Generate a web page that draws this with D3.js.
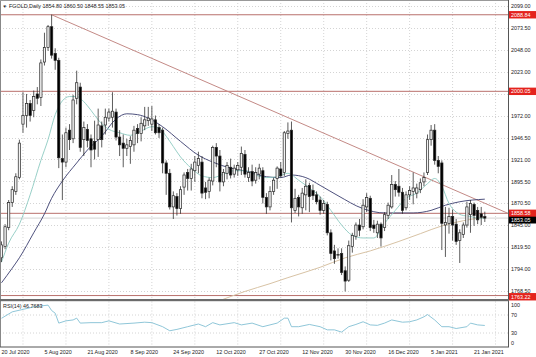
<!DOCTYPE html>
<html><head><meta charset="utf-8">
<script src="https://cdn.jsdelivr.net/npm/d3@7"></script>
<style>
body{margin:0;background:#fff;}
svg{display:block;}
</style></head>
<body><svg id="c" width="536" height="357"></svg>
<script>
// ---------------- DATA ----------------
const symbolTitle = "FGOLD,Daily";
const opens = [1807,1820,1842,1871,1884,1900,1962,1972,1986,1978,
1997,1993,2034,2051,2075,2044,2036,1922,1918,1955,
1945,1992,2005,1944,1956,1945,1942,1944,1960,1961,
1969,1970,1976,1947,1940,1934,1936,1938,1957,1951,
1960,1966,1962,1967,1958,1955,1917,1905,1866,1878,
1864,1889,1906,1899,1908,1914,1918,1888,1884,1896,
1935,1925,1895,1905,1912,1904,1909,1912,1927,1900,
1907,1897,1904,1908,1877,1866,1884,1899,1910,1906,
1951,1955,1862,1877,1865,1880,1891,1885,1880,1874,
1862,1869,1836,1815,1810,1812,1792,1781,1820,1832,
1845,1843,1866,1876,1845,1836,1846,1842,1856,1866,
1892,1890,1883,1865,1880,1884,1882,1886,1895,1906,
1944,1955,1920,1917,1845,1847,1855,1846,1827,1834,
1845,1857,1869,1862,1858,1854.80];
const highs = [1826,1846,1874,1890,1905,1944,1999,1997,1990,2001,
2005,2037,2068,2077,2089,2050,2039,1950,1958,1962,
1996,2024,2010,1965,1962,1950,1966,1980,1965,1980,
1980,1999,1980,1955,1950,1945,1948,1960,1962,1970,
1982,1982,1983,1972,1962,1958,1920,1910,1884,1882,
1890,1906,1910,1916,1925,1930,1925,1895,1900,1937,
1940,1932,1910,1918,1922,1915,1918,1936,1932,1912,
1915,1912,1916,1912,1882,1890,1900,1913,1918,1954,
1964,1965,1887,1880,1888,1898,1894,1892,1884,1878,
1874,1872,1840,1822,1818,1818,1797,1827,1836,1848,
1852,1875,1882,1879,1851,1850,1848,1860,1871,1903,
1896,1910,1888,1884,1890,1906,1893,1899,1906,1950,
1961,1962,1925,1920,1866,1865,1863,1852,1840,1848,
1872,1874,1871,1866,1866,1860.50];
const lows = [1802,1817,1839,1866,1880,1898,1952,1958,1965,1970,
1985,1983,2030,2047,2038,2025,1911,1874,1912,1932,
1940,1985,1930,1925,1935,1912,1921,1924,1935,1950,
1965,1958,1943,1925,1912,1925,1916,1930,1940,1942,
1955,1960,1954,1950,1946,1905,1880,1863,1852,1856,
1858,1880,1885,1885,1895,1905,1876,1875,1876,1891,
1912,1884,1890,1898,1899,1900,1902,1903,1900,1895,
1890,1893,1898,1870,1858,1862,1880,1887,1900,1902,
1945,1848,1859,1855,1858,1862,1860,1874,1869,1857,
1858,1833,1804,1800,1806,1787,1768,1779,1813,1828,
1832,1840,1860,1838,1836,1830,1820,1838,1852,1864,
1878,1878,1858,1862,1874,1869,1876,1882,1890,1903,
1937,1915,1905,1816,1808,1835,1827,1822,1801,1830,
1842,1836,1844,1846,1845,1848.55];
const closes = [1822,1843,1871,1886,1901,1940,1972,1986,1972,1994,
1992,2033,2051,2075,2042,2036,1923,1918,1952,1944,
1990,2010,1935,1958,1943,1932,1933,1961,1944,1970,
1976,1977,1947,1938,1934,1938,1943,1955,1951,1963,
1967,1969,1968,1952,1952,1917,1905,1866,1879,1864,
1886,1903,1899,1910,1918,1922,1882,1883,1897,1935,
1925,1895,1906,1914,1903,1911,1914,1928,1904,1906,
1896,1906,1911,1877,1866,1884,1897,1911,1902,1952,
1954,1865,1876,1866,1882,1890,1878,1879,1872,1862,
1870,1836,1812,1806,1811,1790,1780,1821,1833,1845,
1839,1868,1877,1842,1841,1846,1830,1857,1868,1892,
1886,1883,1862,1880,1885,1888,1888,1894,1900,1944,
1955,1920,1913,1847,1848,1855,1845,1826,1836,1845,
1866,1870,1856,1851,1854,1853.05];

// moving averages: [bar index, price]
const maFast = [[0,1802],[2,1824],[5,1846],[8,1880],[11,1920],[13,1944],[15,1973],[17,1989],[19,1994],[21,1994],
[23,1988],[25,1978],[27,1967],[30,1956],[33,1952],[36,1949],[39,1954],[42,1959],[44,1958],[46,1948],
[48,1936],[50,1924],[53,1911],[56,1902],[59,1900],[62,1904],[65,1908],[68,1908],[71,1903],[74,1900],
[77,1901],[80,1905],[83,1897],[86,1888],[89,1878],[92,1862],[95,1845],[98,1833],[101,1830],[104,1830],
[107,1847],[110,1862],[113,1876],[116,1882],[119,1893],[121,1899],[123,1890],[125,1870],[127,1860],
[129,1856],[131,1855],[133,1853],[135,1853]];
const maSlow = [[0,1778],[3,1795],[5,1807],[9,1836],[12,1858],[14,1876],[17,1896],[21,1917],[24,1932],[28,1948],
[32,1968],[35,1974],[38,1973],[41,1969],[45,1959],[50,1942],[55,1926],[59,1918],[64,1911],[69,1907],
[74,1901],[78,1900],[81,1903],[85,1900],[89,1891],[94,1879],[101,1864],[107,1859],[115,1859],[120,1862],
[124,1868],[128,1872],[135,1875]];
const maLong = [[55,1748],[62,1759],[68,1768],[75,1777],[80,1784],[89,1796],[96,1807],[103,1815],[111,1826],
[117,1835],[123,1844],[129,1850],[135,1854]];

const rsiPts = [[0,62.7],[3,77],[9,88],[13,92],[14,80],[15,74],[16,52],[18,57],[20,59],[21,63],[22,52],[25,53],
[28,53],[30,57],[33,50],[37,52],[40,54],[42,53],[45,44],[47,35],[49,38],[52,44],[55,50],[57,44],[59,53],
[61,48],[65,53],[67,48],[70,52],[73,44],[75,48],[77,52],[79,63],[80,63],[81,44],[83,44],[86,49],[89,44],
[91,37],[93,37],[95,32],[97,44],[99,49],[101,55],[103,48],[105,47],[107,52],[109,59],[112,54],[114,55],
[116,59],[118,66],[119,71],[121,59],[123,44],[125,44],[127,40],[130,44],[131,52],[133,48],[135,46.7683]];
const rsiLabel = "RSI(14) 46.7683";

const priceTicks = [2099.00,2073.50,2048.00,2023.00,1997.50,1972.00,1946.50,1921.00,1895.50,1870.50,1845.00,1819.50,1794.00,1768.50];
const levelLines = [2088.84,2000.05,1858.58,1763.22];
const lastPrice = 1853.05;
const trendAnchors = [[14,2088.84],[81,1967.8]];
const dateIdx = [0,12,24,36,48,60,72,84,96,108,120,132];
const dateLabels = ["20 Jul 2020","5 Aug 2020","21 Aug 2020","8 Sep 2020","24 Sep 2020","12 Oct 2020",
"27 Oct 2020","12 Nov 2020","30 Nov 2020","16 Dec 2020","5 Jan 2021","21 Jan 2021"];
const rsiTicks = [100,70,30,0];

// ---------------- LAYOUT ----------------
const W=536, H=357, PR=508, MB=299, RT=301.5, RB=346.5;
const FONT = "'Liberation Sans', Arial, sans-serif";
const FS = 5.4;
const n = closes.length;

const x = d3.scaleLinear().domain([0,135]).range([1.5,484.8]);
const y = d3.scaleLinear().domain([1768.5,2099]).range([291,6]);
const yr = d3.scaleLinear().domain([0,100]).range([RB,RT]);

const svg = d3.select("#c");
svg.append("rect").attr("width",W).attr("height",H).attr("fill","#fff");
const defs = svg.append("defs");
defs.append("clipPath").attr("id","cm").append("rect").attr("x",0).attr("y",0).attr("width",PR).attr("height",MB);
defs.append("clipPath").attr("id","cr").append("rect").attr("x",0).attr("y",RT-1).attr("width",PR).attr("height",RB-RT+1);

const gridCol = "#c9c9c9";
const gridBars = d3.range(6, 140, 12);
const gMain = svg.append("g").attr("clip-path","url(#cm)");
gMain.selectAll("line.hg").data(priceTicks).join("line")
  .attr("x1",0).attr("x2",PR).attr("y1",d=>Math.round(y(d))+0.5).attr("y2",d=>Math.round(y(d))+0.5)
  .attr("stroke",gridCol).attr("stroke-width",0.8).attr("stroke-dasharray","1,2");
gMain.selectAll("line.vg").data(gridBars).join("line")
  .attr("x1",d=>x(d)).attr("x2",d=>x(d)).attr("y1",0).attr("y2",MB)
  .attr("stroke",gridCol).attr("stroke-width",0.8).attr("stroke-dasharray","1,2");

const gR = svg.append("g").attr("clip-path","url(#cr)");
gR.selectAll("line.vg").data(gridBars).join("line")
  .attr("x1",d=>x(d)).attr("x2",d=>x(d)).attr("y1",RT).attr("y2",RB)
  .attr("stroke",gridCol).attr("stroke-width",0.8).attr("stroke-dasharray","1,2");
gR.selectAll("line.hg").data([70,30]).join("line")
  .attr("x1",0).attr("x2",PR).attr("y1",d=>yr(d)).attr("y2",d=>yr(d))
  .attr("stroke",gridCol).attr("stroke-width",0.8).attr("stroke-dasharray","1,2");

// level lines
gMain.selectAll("line.lv").data(levelLines).join("line")
  .attr("x1",0).attr("x2",PR).attr("y1",d=>y(d)).attr("y2",d=>y(d))
  .attr("stroke","#b9706c").attr("stroke-width",1);
gMain.append("line").attr("x1",0).attr("x2",PR).attr("y1",y(lastPrice)).attr("y2",y(lastPrice))
  .attr("stroke","#c8c8c8").attr("stroke-width",0.8);

// trend line extended to right edge
const slope = (trendAnchors[1][1]-trendAnchors[0][1])/(trendAnchors[1][0]-trendAnchors[0][0]);
const endBar = x.invert(PR);
const trendPts = [trendAnchors[0], [endBar, trendAnchors[0][1] + slope*(endBar-trendAnchors[0][0])]];
gMain.append("path").datum(trendPts)
  .attr("d", d3.line().x(d=>x(d[0])).y(d=>y(d[1])))
  .attr("fill","none").attr("stroke","#c48a86").attr("stroke-width",1);

// moving averages
const maLine = d3.line().x(d=>x(d[0])).y(d=>y(d[1])).curve(d3.curveMonotoneX);
gMain.append("path").datum(maLong).attr("d",maLine).attr("fill","none").attr("stroke","#d8c3a5").attr("stroke-width",1);
gMain.append("path").datum(maSlow).attr("d",maLine).attr("fill","none").attr("stroke","#3a3d6e").attr("stroke-width",0.9);
gMain.append("path").datum(maFast).attr("d",maLine).attr("fill","none").attr("stroke","#8cc9c1").attr("stroke-width",0.9);

// candles
const bars = d3.range(n).map(i=>({i,o:opens[i],h:highs[i],l:lows[i],c:closes[i]}));
const gC = gMain.append("g");
gC.selectAll("line.wick").data(bars).join("line")
  .attr("x1",d=>x(d.i)).attr("x2",d=>x(d.i)).attr("y1",d=>y(d.h)).attr("y2",d=>y(d.l))
  .attr("stroke","#262626").attr("stroke-width",0.75);
const bw = 2.3;
gC.selectAll("rect.body").data(bars).join("rect")
  .attr("x",d=>x(d.i)-bw/2).attr("width",bw)
  .attr("y",d=>Math.min(y(d.o),y(d.c)))
  .attr("height",d=>Math.max(0.7,Math.abs(y(d.o)-y(d.c))))
  .attr("fill",d=>d.c>=d.o?"#f2f2f2":"#000")
  .attr("stroke","#262626").attr("stroke-width",0.7);

// RSI line
gR.append("path").datum(rsiPts)
  .attr("d", d3.line().x(d=>x(d[0])).y(d=>yr(d[1])))
  .attr("fill","none").attr("stroke","#82c0d4").attr("stroke-width",0.9);

// frames
svg.append("line").attr("x1",PR+0.5).attr("x2",PR+0.5).attr("y1",0).attr("y2",RB+0.5).attr("stroke","#555").attr("stroke-width",1);
svg.append("line").attr("x1",0.5).attr("x2",0.5).attr("y1",0).attr("y2",RB+0.5).attr("stroke","#888").attr("stroke-width",1);
svg.append("line").attr("x1",0).attr("x2",PR).attr("y1",0.5).attr("y2",0.5).attr("stroke","#999").attr("stroke-width",1);
svg.append("rect").attr("x",0).attr("y",MB).attr("width",PR+1).attr("height",2.2).attr("fill","#6b6b6b");
svg.append("line").attr("x1",0).attr("x2",PR+1).attr("y1",RB+0.5).attr("y2",RB+0.5).attr("stroke","#555").attr("stroke-width",1);

// price axis: labels hidden where a level label covers them
const levelYs = levelLines.map(v=>y(v)).concat([y(lastPrice)]);
const shownTicks = priceTicks.filter(t => levelYs.every(ly => Math.abs(y(t)-ly) > 2.5));
const yAxis = d3.axisRight(y).tickValues(shownTicks).tickSize(0).tickPadding(3).tickFormat(d3.format(".2f"));
const gA = svg.append("g").attr("transform",`translate(${PR},0)`).call(yAxis);
gA.select(".domain").remove();
gA.attr("font-family",FONT).attr("font-size",FS);
gA.selectAll("text").attr("fill","#222");

// level labels
const lblY = v => v===1763.22 ? y(v)+1.2 : y(v);
const gL = svg.append("g").attr("font-family",FONT).attr("font-size",FS);
gL.selectAll("rect").data(levelLines).join("rect")
  .attr("x",PR+1).attr("y",d=>lblY(d)-3.7).attr("width",W-PR-1).attr("height",7.4).attr("fill","#e4231d");
gL.selectAll("text").data(levelLines).join("text")
  .attr("x",PR+3).attr("y",d=>lblY(d)).attr("dy","0.35em").attr("fill","#fff").text(d=>d3.format(".2f")(d));
gL.append("rect").attr("x",PR+1).attr("y",y(lastPrice)-1.4).attr("width",W-PR-1).attr("height",6.8).attr("fill","#000");
gL.append("text").attr("x",PR+3).attr("y",y(lastPrice)+2).attr("dy","0.35em").attr("fill","#fff").text(d3.format(".2f")(lastPrice));

// rsi axis labels
const rsiPos = v => v===100 ? yr(v)+3.5 : (v===0 ? yr(v)-3.5 : yr(v));
svg.append("g").attr("font-family",FONT).attr("font-size",FS).selectAll("text").data(rsiTicks).join("text")
  .attr("x",PR+3).attr("y",d=>rsiPos(d)).attr("dy","0.35em").attr("fill","#222").text(d=>d);

// date axis
const xAxis = d3.axisBottom(x).tickValues(dateIdx).tickSize(0).tickPadding(3.5).tickFormat((d,i)=>dateLabels[i]);
const gX = svg.append("g").attr("transform",`translate(0,${RB})`).call(xAxis);
gX.select(".domain").remove();
gX.attr("font-family",FONT).attr("font-size",FS);
gX.selectAll("text").attr("text-anchor","start").attr("x",-0.5).attr("fill","#222");

// titles
svg.append("text").attr("x",2.5).attr("y",8).attr("font-family",FONT).attr("font-size",4.5).attr("fill","#222").text("\u25BC");
svg.append("text").attr("x",9).attr("y",8).attr("font-family",FONT).attr("font-size",FS).attr("fill","#222")
  .text(`${symbolTitle}  ${d3.format(".2f")(opens[n-1])} ${d3.format(".2f")(highs[n-1])} ${d3.format(".2f")(lows[n-1])} ${d3.format(".2f")(closes[n-1])}`);
svg.append("text").attr("x",3).attr("y",308).attr("font-family",FONT).attr("font-size",FS).attr("fill","#222").text(rsiLabel);
</script>
</body></html>
